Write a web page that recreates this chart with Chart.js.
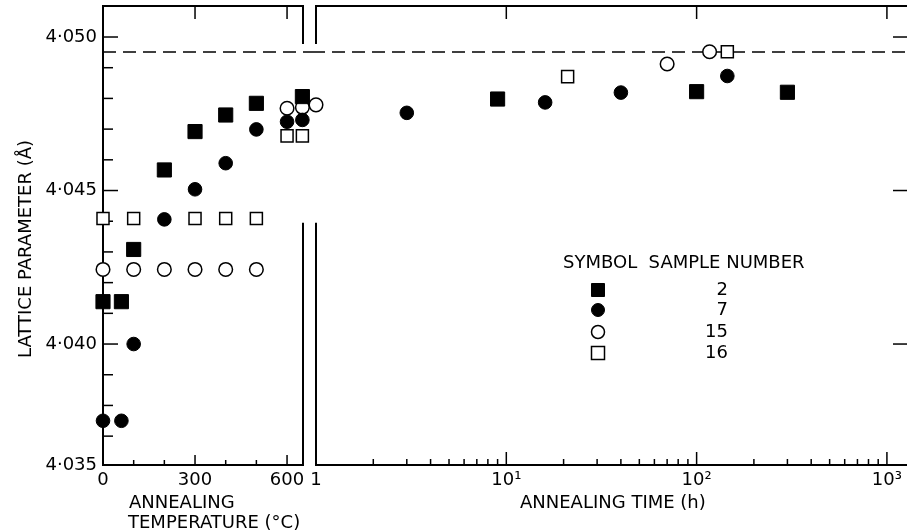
<!DOCTYPE html>
<html lang="en">
<head>
<meta charset="UTF-8">
<title>Lattice parameter after annealing</title>
<script src="https://cdn.jsdelivr.net/npm/chart.js"></script>
<style>
  html, body { margin: 0; padding: 0; background: #fff; overflow: hidden; }
  .wrap { position: relative; width: 907px; height: 532px; }
  canvas { position: absolute; top: 0; }
  #tempChart { left: 0; }
  #timeChart { left: 300px; }
</style>
</head>
<body>
<div class="wrap">
  <canvas id="tempChart" width="320" height="532"></canvas>
  <canvas id="timeChart" width="607" height="532"></canvas>
</div>
<script>
// sample numbers, in key order
const samples = ['2', '7', '15', '16'];

// left panel: annealing temperature (°C)
const tempS2 = [0, 60, 100, 200, 300, 400, 500, 650];
const latTempS2 = [4.04138, 4.04138, 4.04308, 4.04567, 4.04692, 4.04746, 4.04784, 4.04806];
const tempS7 = [0, 60, 100, 200, 300, 400, 500, 600, 650];
const latTempS7 = [4.0375, 4.0375, 4.0400, 4.04406, 4.04504, 4.04589, 4.04699, 4.04724, 4.0473];
const tempS15 = [0, 100, 200, 300, 400, 500, 600, 650];
const latTempS15 = [4.04243, 4.04243, 4.04243, 4.04243, 4.04243, 4.04243, 4.04768, 4.04771];
const tempS16 = [0, 100, 300, 400, 500, 600, 650];
const latTempS16 = [4.04409, 4.04409, 4.04409, 4.04409, 4.04409, 4.04678, 4.04678];

// right panel: annealing time (h)
const timeS2 = [9, 100, 300];
const latTimeS2 = [4.04798, 4.04822, 4.0482];
const timeS7 = [3, 16, 40, 145];
const latTimeS7 = [4.04753, 4.04787, 4.04819, 4.04873];
const timeS15 = [1, 70, 117];
const latTimeS15 = [4.04779, 4.04912, 4.04952];
const timeS16 = [21, 145];
const latTimeS16 = [4.04871, 4.04952];

// dashed reference level
const refLattice = 4.04951;

// axes (the original labels its bottom edge 4·035 although the scale is squeezed there)
const yMin = 4.03606, yMax = 4.05101;
const yTickValues = [4.03606, 4.040, 4.045, 4.050];
const yTickText = ['4·035', '4·040', '4·045', '4·050'];
const yMinorTicks = [4.037, 4.038, 4.039, 4.041, 4.042, 4.043, 4.044, 4.046, 4.047, 4.048, 4.049];
const tempTicks = [0, 300, 600];
const tempTickText = ['0', '300', '600'];
const tempMinorTicks = [100, 200, 400, 500];
const timeTicks = [1, 10, 100, 1000];
const timeTickText = ['1', '10¹', '10²', '10³'];
const timeMinorTicks = [2, 3, 4, 5, 6, 7, 8, 9, 20, 30, 40, 50, 60, 70, 80, 90, 200, 300, 400, 500, 600, 700, 800, 900];
const rightTicks = [4.040, 4.045, 4.050];

// where the panel edges are left open
const gapTop = 4.04977, gapBottom = 4.04395;

Chart.defaults.font.family = '"DejaVu Sans", sans-serif';
Chart.defaults.color = '#000';

const marks = [
  { style: 'rect', r: 10, fill: '#000', bw: 1 },
  { style: 'circle', r: 6.8, fill: '#000', bw: 1 },
  { style: 'circle', r: 6.8, fill: '#fff', bw: 1.5 },
  { style: 'rect', r: 8.5, fill: '#fff', bw: 1.5 }
];

function makeSets(xs, ys) {
  return samples.map((s, i) => ({
    label: 'Sample ' + s,
    data: xs[i].map((x, j) => ({ x: x, y: ys[i][j] })),
    showLine: false,
    clip: false,
    pointStyle: marks[i].style,
    pointRadius: marks[i].r,
    pointHoverRadius: marks[i].r,
    pointBackgroundColor: marks[i].fill,
    pointBorderColor: '#000',
    pointBorderWidth: marks[i].bw
  }));
}

// keep the plot box where it is: no extra room for edge labels
function noPad(s) {
  s.paddingLeft = 0; s.paddingRight = 0; s.paddingTop = 0; s.paddingBottom = 0;
}

function line(ctx, x1, y1, x2, y2) {
  ctx.beginPath();
  ctx.moveTo(x1, y1);
  ctx.lineTo(x2, y2);
  ctx.stroke();
}

const titleFont = '18px "DejaVu Sans"';

const tempFrame = {
  id: 'tempFrame',
  beforeDatasetsDraw(chart) {
    const { ctx, chartArea: a, scales: { x, y } } = chart;
    ctx.save();
    ctx.strokeStyle = '#000';
    ctx.lineWidth = 2;
    line(ctx, a.left, a.top - 1, a.left, a.bottom + 1);
    line(ctx, a.left - 1, a.bottom, a.right + 1, a.bottom);
    line(ctx, a.left - 1, a.top, a.right + 1, a.top);
    line(ctx, a.right, a.top, a.right, y.getPixelForValue(gapTop));
    line(ctx, a.right, y.getPixelForValue(gapBottom), a.right, a.bottom);
    ctx.lineWidth = 1.5;
    yMinorTicks.forEach(v => { const p = y.getPixelForValue(v); line(ctx, a.left, p, a.left + 10, p); });
    yTickValues.slice(1).forEach(v => { const p = y.getPixelForValue(v); line(ctx, a.left, p, a.left + 15, p); });
    tempMinorTicks.forEach(v => { const p = x.getPixelForValue(v); line(ctx, p, a.bottom, p, a.bottom - 5); });
    tempTicks.slice(1).forEach(v => {
      const p = x.getPixelForValue(v);
      line(ctx, p, a.bottom, p, a.bottom - 10);
      line(ctx, p, a.top, p, a.top + 13);
    });
    ctx.setLineDash([13, 7]);
    const yr = y.getPixelForValue(refLattice);
    line(ctx, a.left, yr, 312, yr);
    ctx.restore();
  },
  afterDraw(chart) {
    const ctx = chart.ctx;
    ctx.save();
    ctx.fillStyle = '#000';
    ctx.font = titleFont;
    ctx.textAlign = 'left';
    ctx.textBaseline = 'middle';
    ctx.fillText('ANNEALING', 129, 503);
    ctx.fillText('TEMPERATURE (°C)', 128, 523);
    ctx.translate(26, 249);
    ctx.rotate(-Math.PI / 2);
    ctx.textAlign = 'center';
    ctx.fillText('LATTICE PARAMETER (Å)', 0, 0);
    ctx.restore();
  }
};

function drawKeyMark(ctx, m, x, y) {
  ctx.fillStyle = m.fill;
  ctx.strokeStyle = '#000';
  ctx.lineWidth = m.bw;
  ctx.beginPath();
  if (m.style === 'rect') ctx.rect(x - 6.5, y - 6.5, 13, 13);
  else ctx.arc(x, y, 6.5, 0, Math.PI * 2);
  ctx.fill();
  ctx.stroke();
}

const timeFrame = {
  id: 'timeFrame',
  beforeDatasetsDraw(chart) {
    const { ctx, chartArea: a, scales: { x, y } } = chart;
    ctx.save();
    ctx.strokeStyle = '#000';
    ctx.lineWidth = 2;
    line(ctx, a.left - 1, a.top, a.right, a.top);
    line(ctx, a.left - 1, a.bottom, a.right, a.bottom);
    line(ctx, a.left, a.top, a.left, y.getPixelForValue(gapTop));
    line(ctx, a.left, y.getPixelForValue(gapBottom), a.left, a.bottom + 1);
    ctx.lineWidth = 1.5;
    timeMinorTicks.forEach(v => { const p = x.getPixelForValue(v); line(ctx, p, a.bottom, p, a.bottom - 6); });
    timeTicks.slice(1).forEach(v => {
      const p = x.getPixelForValue(v);
      line(ctx, p, a.bottom, p, a.bottom - 13);
      line(ctx, p, a.top, p, a.top + 13);
    });
    rightTicks.forEach(v => { const p = y.getPixelForValue(v); line(ctx, a.right, p, a.right - 14, p); });
    ctx.setLineDash([13, 7]);
    const yr = y.getPixelForValue(refLattice);
    line(ctx, 12, yr, a.right, yr);
    ctx.restore();
  },
  afterDraw(chart) {
    const ctx = chart.ctx;
    ctx.save();
    ctx.fillStyle = '#000';
    ctx.font = titleFont;
    ctx.textAlign = 'left';
    ctx.textBaseline = 'middle';
    ctx.fillText('ANNEALING TIME (h)', 220, 503);
    // key
    ctx.fillText('SYMBOL  SAMPLE NUMBER', 263, 263);
    const rows = [290, 310, 332, 353];
    samples.forEach((s, i) => {
      drawKeyMark(ctx, marks[i], 298, rows[i]);
      ctx.fillStyle = '#000';
      ctx.textAlign = 'right';
      ctx.fillText(s, 428, rows[i]);
    });
    ctx.restore();
  }
};

const tickFont = { size: 18 };

new Chart(document.getElementById('tempChart'), {
  type: 'scatter',
  data: {
    datasets: makeSets([tempS2, tempS7, tempS15, tempS16], [latTempS2, latTempS7, latTempS15, latTempS16])
  },
  options: {
    responsive: false,
    animation: false,
    devicePixelRatio: 1,
    layout: { autoPadding: false, padding: { top: 6, right: 17, left: 0, bottom: 0 } },
    plugins: { legend: { display: false }, tooltip: { enabled: false } },
    scales: {
      x: {
        type: 'linear', min: 0, max: 652,
        grid: { display: false, drawTicks: false },
        border: { display: false },
        afterBuildTicks: s => { s.ticks = tempTicks.map(v => ({ value: v })); },
        afterFit: s => { s.height = 67; noPad(s); },
        ticks: { font: tickFont, padding: 5, maxRotation: 0, autoSkip: false,
                 callback: (v, i) => tempTickText[i] }
      },
      y: {
        type: 'linear', min: yMin, max: yMax,
        grid: { display: false, drawTicks: false },
        border: { display: false },
        afterBuildTicks: s => { s.ticks = yTickValues.map(v => ({ value: v })); },
        afterFit: s => { s.width = 103; noPad(s); },
        ticks: { font: tickFont, padding: 6, autoSkip: false,
                 callback: (v, i) => yTickText[i] }
      }
    }
  },
  plugins: [tempFrame]
});

new Chart(document.getElementById('timeChart'), {
  type: 'scatter',
  data: {
    datasets: makeSets([timeS2, timeS7, timeS15, timeS16], [latTimeS2, latTimeS7, latTimeS15, latTimeS16])
  },
  options: {
    responsive: false,
    animation: false,
    devicePixelRatio: 1,
    layout: { autoPadding: false, padding: { top: 6, right: 0, left: 16, bottom: 0 } },
    plugins: { legend: { display: false }, tooltip: { enabled: false } },
    scales: {
      x: {
        type: 'logarithmic', min: 1, max: 1275,
        grid: { display: false, drawTicks: false },
        border: { display: false },
        afterBuildTicks: s => { s.ticks = timeTicks.map(v => ({ value: v })); },
        afterFit: s => { s.height = 67; noPad(s); },
        ticks: { font: tickFont, padding: 5, maxRotation: 0, autoSkip: false,
                 callback: (v, i) => timeTickText[i] }
      },
      y: {
        type: 'linear', min: yMin, max: yMax,
        display: false,
        afterFit: noPad
      }
    }
  },
  plugins: [timeFrame]
});
</script>
</body>
</html>
